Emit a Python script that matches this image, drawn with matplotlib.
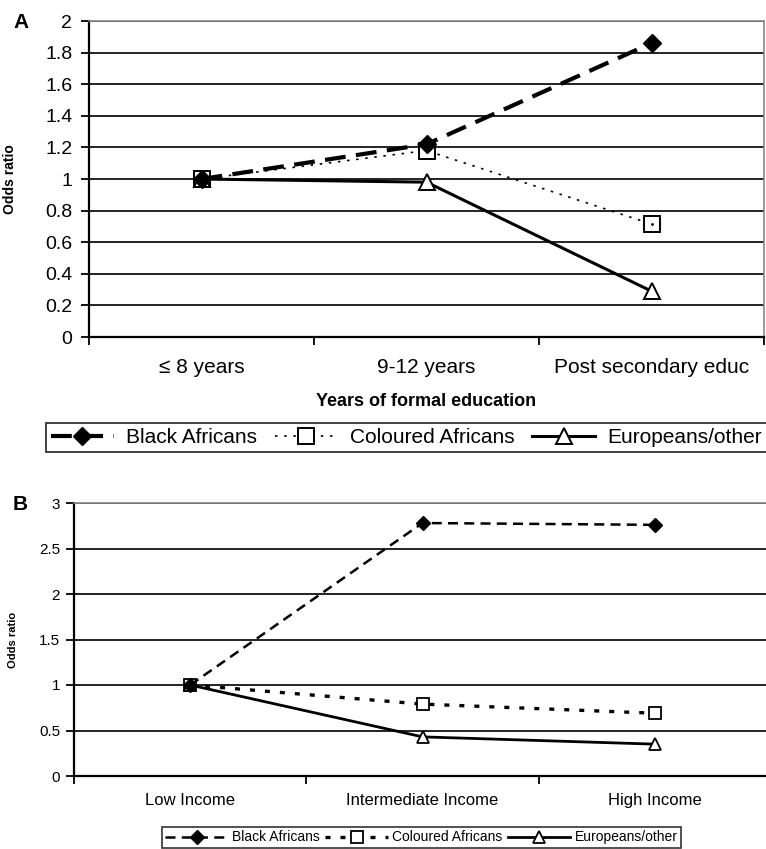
import matplotlib
matplotlib.use("Agg")
import matplotlib.pyplot as plt

plt.rcParams["font.family"] = ["Liberation Sans", "DejaVu Sans"]

# panel A: education
edu_cats = ["\u2264 8 years", "9-12 years", "Post secondary educ"]
edu_black = [1.0, 1.22, 1.86]
edu_coloured = [1.0, 1.18, 0.715]
edu_euro = [1.0, 0.98, 0.29]

# panel B: income
inc_cats = ["Low Income", "Intermediate Income", "High Income"]
inc_black = [1.0, 2.78, 2.76]
inc_coloured = [1.0, 0.79, 0.69]
inc_euro = [1.0, 0.43, 0.35]

series = ["Black Africans", "Coloured Africans", "Europeans/other"]

W, H = 766, 849
fig = plt.figure(figsize=(W / 100, H / 100), dpi=100)


def px_axes(x0, x1, y0, y1):
    return fig.add_axes([x0 / W, 1 - y1 / H, (x1 - x0) / W, (y1 - y0) / H])


def style_axes(ax, ymax, ystep, cats, xfs, yfs, xpad, ypad):
    ax.set_xlim(-0.5, 2.5)
    ax.set_ylim(0, ymax)
    n = int(round(ymax / ystep))
    yt = [i * ystep for i in range(n + 1)]
    ax.set_yticks(yt, [f"{v:g}" for v in yt], fontsize=yfs)
    ax.set_xticks(range(len(cats)), cats, fontsize=xfs)
    ax.set_xticks([-0.5, 0.5, 1.5, 2.5], minor=True)
    ax.tick_params(axis="x", which="major", length=0, pad=xpad)
    ax.tick_params(axis="x", which="minor", length=6, width=1.3, direction="out")
    ax.tick_params(axis="y", length=6, width=1.3, direction="out", pad=ypad)
    for v in yt[1:]:
        ax.axhline(v, color="#222222", lw=1.4, zorder=1)
    ax.spines["left"].set_linewidth(1.6)
    ax.spines["bottom"].set_linewidth(1.6)
    ax.spines["top"].set_color("#888888")
    ax.spines["right"].set_color("#888888")
    ax.spines["top"].set_linewidth(1.2)
    ax.spines["right"].set_linewidth(1.2)


# ---- panel A
axA = px_axes(89, 764, 21, 337)
style_axes(axA, 2, 0.2, edu_cats, 15, 14, 15, 6)
x = range(3)
axA.plot(x, edu_black, color="black", lw=3, dashes=(5, 2.5), marker="D",
         ms=9, mfc="black", mec="black", zorder=4, label=series[0])
axA.plot(x, edu_coloured, color="black", lw=1.2, dashes=(1.5, 4), marker="s",
         ms=12, mfc="white", mec="black", mew=1.4, zorder=3, label=series[1])
axA.plot(x, edu_coloured, ls="none", marker=".", ms=2, color="black", zorder=3)
axA.plot(x, edu_euro, color="black", lw=2.2, marker="^", ms=12,
         mfc="white", mec="black", mew=1.4, zorder=3, label=series[2])
axA.set_ylabel("Odds ratio", fontsize=10, fontweight="bold")
axA.yaxis.set_label_coords(-72 / 675, 0.5)
axA.set_xlabel("Years of formal education", fontsize=13, fontweight="bold",
               labelpad=12)
fig.text(13 / W, 1 - 22 / H, "A", fontsize=15, fontweight="bold",
         va="center", ha="left")
legA = axA.legend(loc="upper left", bbox_to_anchor=(46 / W, 1 - 423 / H),
                  bbox_transform=fig.transFigure, ncol=3, fontsize=15,
                  frameon=True, fancybox=False, edgecolor="black",
                  handlelength=3.0, handletextpad=0.6, columnspacing=0.85,
                  borderpad=0.25, borderaxespad=0)
legA.get_frame().set_linewidth(1.3)

# ---- panel B
axB = px_axes(74, 771, 503, 776)
style_axes(axB, 3, 0.5, inc_cats, 12, 11, 12, 4)
axB.plot(x, inc_black, color="black", lw=1.8, dashes=(4, 2.5), marker="D",
         ms=7, mfc="black", mec="black", zorder=4, label=series[0])
axB.plot(x, inc_coloured, color="black", lw=2.4, dashes=(1.5, 3), marker="s",
         ms=9, mfc="white", mec="black", mew=1.3, zorder=3, label=series[1])
axB.plot(x, inc_euro, color="black", lw=2.0, marker="^", ms=9,
         mfc="white", mec="black", mew=1.3, zorder=3, label=series[2])
axB.set_ylabel("Odds ratio", fontsize=8, fontweight="bold")
axB.yaxis.set_label_coords(-56 / 697, 0.5)
fig.text(13 / W, 1 - 505 / H, "B", fontsize=15, fontweight="bold",
         va="center", ha="left")
legB = axB.legend(loc="upper left", bbox_to_anchor=(162 / W, 1 - 827 / H),
                  bbox_transform=fig.transFigure, ncol=3, fontsize=10,
                  frameon=True, fancybox=False, edgecolor="black",
                  handlelength=4.5, handletextpad=0.3, columnspacing=0.4,
                  borderpad=0.25, borderaxespad=0)
legB.get_frame().set_linewidth(1.2)

fig.savefig("out.png", dpi=100)
